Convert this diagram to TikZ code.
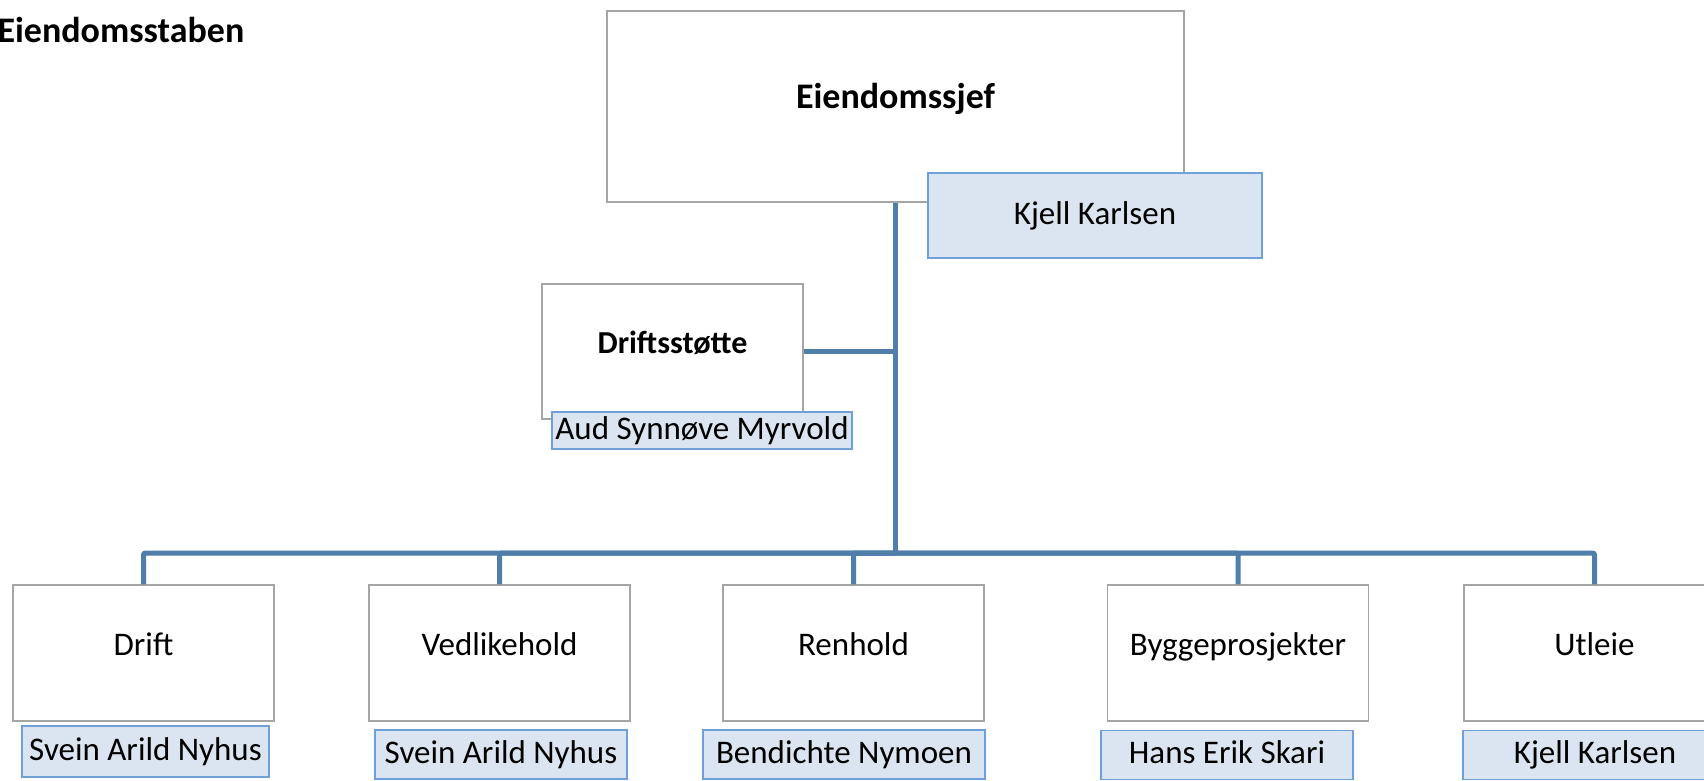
\documentclass[tikz,border=0pt]{standalone}
\usepackage{fontspec}
\setmainfont{Carlito}
\definecolor{connblue}{RGB}{79,126,170}
\definecolor{boxgray}{RGB}{165,165,165}
\definecolor{personfill}{RGB}{219,229,241}
\definecolor{persondraw}{RGB}{111,160,215}
\begin{document}
\begin{tikzpicture}
[   x=1pt,y=-1pt,
    font=\fontsize{33}{38}\selectfont,
    unit/.style={draw=boxgray,line width=1.5pt,fill=white,inner sep=0pt,
        minimum width=261pt,minimum height=136pt,text height=12pt,text depth=8pt},
    person/.style={draw=persondraw,line width=1.5pt,fill=personfill,inner sep=0pt,
        minimum width=#1,text height=24pt,text depth=7pt},
    conn/.style={draw=connblue,line width=5pt,rounded corners=2pt},
]
    \fill[white] (0,0) rectangle (1704,780);
    \useasboundingbox (0,0) rectangle (1704,780);
    \node[anchor=base west,font=\fontsize{36}{42}\selectfont\bfseries] (title) at (-6,42) {Eiendomsstaben};
    % top
    \node[unit,minimum width=577pt,minimum height=191pt,font=\fontsize{36}{42}\selectfont\bfseries] (chief) at (895.5,106.5) {Eiendomssjef};
    \node[person=334pt,minimum height=85pt] (chief-p) at (1095,215.5) {Kjell Karlsen};
    \node[unit,minimum height=135pt,font=\fontsize{32}{38}\selectfont\bfseries] (support) at (672.5,351.5) {Driftsstøtte};
    \node[person=300pt,minimum height=37pt] (support-p) at (702,430.5) {Aud Synnøve Myrvold};
    % units
    \node[unit] (drift) at (143.5,653) {Drift};
    \node[unit] (vedl) at (499.5,653) {Vedlikehold};
    \node[unit] (renh) at (853.5,653) {Renhold};
    \node[unit] (bygg) at (1238,653) {Byggeprosjekter};
    \node[unit] (utleie) at (1594.5,653) {Utleie};
    \node[person=247pt,minimum height=51pt] (drift-p) at (145.5,751.5) {Svein Arild Nyhus};
    \node[person=252pt,minimum height=49pt] (vedl-p) at (501,754.5) {Svein Arild Nyhus};
    \node[person=282pt,minimum height=49pt] (renh-p) at (844,754.5) {Bendichte Nymoen};
    \node[person=252pt,minimum height=49pt] (bygg-p) at (1227,755) {Hans Erik Skari};
    \node[person=264pt,minimum height=49pt] (utleie-p) at (1595,755) {Kjell Karlsen};
    % lines
    \coordinate (bar) at (895.5,553);
    \draw[conn] (chief.south) -- (bar);
    \draw[conn] (support.east) -- (support.east -| chief.south);
    \foreach \u in {drift,vedl,renh,bygg,utleie}
    {   \draw[conn] (\u.north) |- (bar);
    }
\end{tikzpicture}
\end{document}
